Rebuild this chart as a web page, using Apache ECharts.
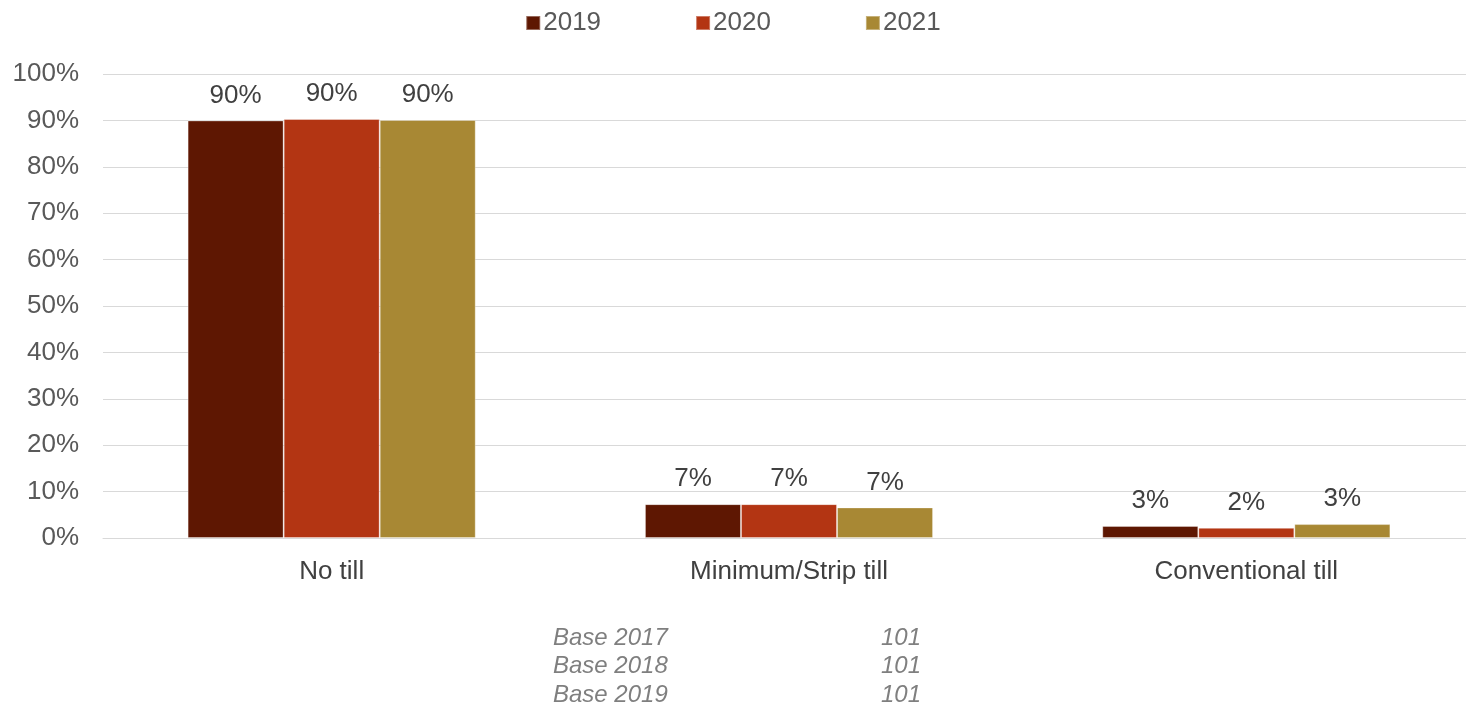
<!DOCTYPE html>
<html>
<head>
<meta charset="utf-8">
<script src="https://cdn.jsdelivr.net/npm/echarts@6/dist/echarts.min.js"></script>
<style>
  html, body { margin: 0; padding: 0; background: #ffffff; }
  #chart { width: 1466px; height: 706px; }
</style>
</head>
<body>
<div id="chart"></div>
<script>
// Tillage practice share by year
const categories = ['No till', 'Minimum/Strip till', 'Conventional till'];
const years = ['2019', '2020', '2021'];
const values2019 = [90.0, 7.3, 2.6];
const values2020 = [90.3, 7.3, 2.2];
const values2021 = [90.1, 6.6, 3.0];
const yTicks = [0, 10, 20, 30, 40, 50, 60, 70, 80, 90, 100];
const baseLabels = ['Base 2017', 'Base 2018', 'Base 2019'];
const baseCounts = [101, 101, 101];

const colors = ['#5E1702', '#B33513', '#A88834'];
const seriesValues = [values2019, values2020, values2021];
const FONT = 'Liberation Sans, Arial, sans-serif';

const chart = echarts.init(document.getElementById('chart'), null, { renderer: 'canvas' });

const series = years.map((y, i) => ({
  name: y,
  type: 'bar',
  data: seriesValues[i],
  barGap: '0%',
  barCategoryGap: '37%',
  itemStyle: { color: colors[i], borderColor: 'rgba(255,255,255,0.35)', borderWidth: 1 },
  label: {
    show: true,
    position: 'top',
    distance: 12,
    color: '#404040',
    fontFamily: FONT,
    fontSize: 26,
    formatter: p => Math.round(p.value) + '%'
  }
}));

// footnote rows with sample sizes
const graphics = [];
baseLabels.forEach((t, i) => {
  graphics.push({
    type: 'text', left: 553, top: 626 + i * 28.5,
    style: { text: t, fill: '#7f7f7f', font: 'italic 24px ' + FONT }
  });
  graphics.push({
    type: 'text', right: 1466 - 921, top: 626 + i * 28.5,
    style: { text: String(baseCounts[i]), fill: '#7f7f7f', font: 'italic 24px ' + FONT, textAlign: 'right' }
  });
});

chart.setOption({
  animation: false,
  color: colors,
  legend: {
    top: 5,
    left: 'center',
    itemWidth: 14,
    itemHeight: 14,
    itemGap: 94,
    icon: 'rect',
    textStyle: { color: '#595959', fontFamily: FONT, fontSize: 26, padding: [0, 0, 0, -2] },
    data: years
  },
  grid: {
    left: 103, width: 1372, top: 74, height: 464,
    containLabel: false,
    outerBoundsMode: 'none'
  },
  xAxis: {
    type: 'category',
    data: categories,
    axisLine: { lineStyle: { color: '#d9d9d9', width: 1 } },
    axisTick: { show: false },
    axisLabel: { color: '#404040', fontFamily: FONT, fontSize: 26, margin: 21 }
  },
  yAxis: {
    type: 'value',
    min: 0, max: 100, interval: 10,
    axisLine: { show: false },
    axisTick: { show: false },
    splitLine: { lineStyle: { color: '#d9d9d9', width: 1 } },
    axisLabel: {
      color: '#595959', fontFamily: FONT, fontSize: 26, margin: 24,
      formatter: v => yTicks.includes(v) ? v + '%' : ''
    }
  },
  graphic: graphics,
  series: series
});
</script>
</body>
</html>
